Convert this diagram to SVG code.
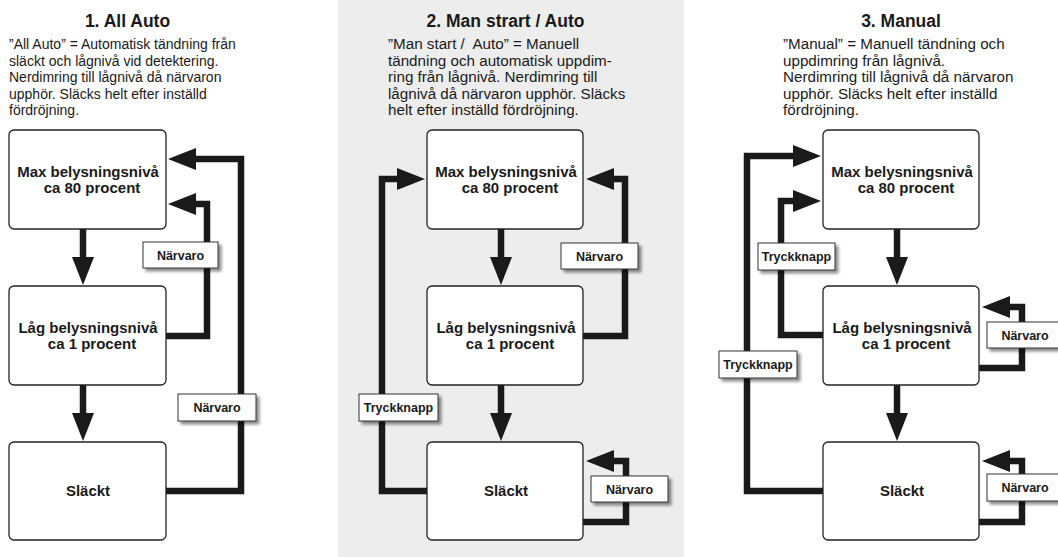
<svg xmlns="http://www.w3.org/2000/svg" width="1058" height="557" viewBox="0 0 1058 557">
<style>
.title{font-family:"Liberation Sans",Arial,sans-serif;font-weight:bold;font-size:17.5px;fill:#1a1a1a;text-anchor:middle}
.desc{font-family:"Liberation Sans",Arial,sans-serif;font-size:14px;fill:#1a1a1a;white-space:pre}
.desc2{font-size:15.2px}
.box{fill:#fff;stroke:#222;stroke-width:1.3}
.nt{font-family:"Liberation Sans",Arial,sans-serif;font-weight:bold;font-size:15px;fill:#1a1a1a;text-anchor:middle}
.lb{fill:#fff;stroke:#333;stroke-width:1;filter:url(#sh)}
.lt{font-family:"Liberation Sans",Arial,sans-serif;font-weight:bold;font-size:12.5px;fill:#1a1a1a;text-anchor:middle}
.c{fill:none;stroke:#1a1a1a;stroke-width:6.5;stroke-linejoin:miter;marker-end:url(#ah)}
</style>
<defs>
<marker id="ah" markerUnits="userSpaceOnUse" markerWidth="30" markerHeight="24" refX="1" refY="11" orient="auto" overflow="visible">
<path d="M0,0 L28,11 L0,22 Z" fill="#1a1a1a"/>
</marker>
<filter id="sh" x="-20%" y="-30%" width="150%" height="180%">
<feDropShadow dx="3" dy="3" stdDeviation="1.8" flood-color="#000" flood-opacity="0.45"/>
</filter>
</defs>
<rect x="338" y="0" width="346" height="557" fill="#ededed"/>

<g id="panel1-text">
<text class="title" x="127.5" y="27">1. All Auto</text>
<text class="desc" x="9" y="49">”All Auto” = Automatisk tändning från</text>
<text class="desc" x="9" y="65.5">släckt och lågnivå vid detektering.</text>
<text class="desc" x="9" y="82">Nerdimring till lågnivå då närvaron</text>
<text class="desc" x="9" y="98.5">upphör. Släcks helt efter inställd</text>
<text class="desc" x="9" y="115">fördröjning.</text>
</g>
<g id="panel2-text">
<text class="title" x="505.5" y="27">2. Man strart / Auto</text>
<text class="desc desc2" x="388" y="49">”Man start /  Auto” = Manuell</text>
<text class="desc desc2" x="388" y="65.5">tändning och automatisk uppdim-</text>
<text class="desc desc2" x="388" y="82">ring från lågnivå. Nerdimring till</text>
<text class="desc desc2" x="388" y="98.5">lågnivå då närvaron upphör. Släcks</text>
<text class="desc desc2" x="388" y="115">helt efter inställd fördröjning.</text>
</g>
<g id="panel3-text">
<text class="title" x="901" y="27">3. Manual</text>
<text class="desc desc2" x="783" y="49">”Manual” = Manuell tändning och</text>
<text class="desc desc2" x="783" y="65.5">uppdimring från lågnivå.</text>
<text class="desc desc2" x="783" y="82">Nerdimring till lågnivå då närvaron</text>
<text class="desc desc2" x="783" y="98.5">upphör. Släcks helt efter inställd</text>
<text class="desc desc2" x="783" y="115">fördröjning.</text>
</g>

<g id="connectors">
<path class="c" d="M83,229 V258"/>
<path class="c" d="M83,385 V414"/>
<path class="c" d="M166,491 H241 V159 H195"/>
<path class="c" d="M166,336 H207 V204 H195"/>

<path class="c" d="M501,229 V258"/>
<path class="c" d="M501,385 V414"/>
<path class="c" d="M583,336 H625 V179 H613"/>
<path class="c" d="M427,491 H382 V179 H398"/>
<path class="c" d="M583,522 H626 V461 H613"/>

<path class="c" d="M897,229 V258"/>
<path class="c" d="M897,385 V414"/>
<path class="c" d="M823,491 H747 V156 H794"/>
<path class="c" d="M823,335 H781 V201 H794"/>
<path class="c" d="M979,368 H1022 V307 H1009"/>
<path class="c" d="M979,522 H1022 V461 H1009"/>
</g>

<g id="p1-max"><rect class="box" x="9" y="130" width="157" height="99" rx="5"/><text class="nt" x="88" y="177">Max belysningsnivå</text><text class="nt" x="92" y="193">ca 80 procent</text></g>
<g id="p1-low"><rect class="box" x="9" y="286" width="157" height="99" rx="5"/><text class="nt" x="88" y="333">Låg belysningsnivå</text><text class="nt" x="92" y="349">ca 1 procent</text></g>
<g id="p1-off"><rect class="box" x="9" y="442" width="157" height="98" rx="5"/><text class="nt" x="88" y="496">Släckt</text></g>

<g id="p2-max"><rect class="box" x="427" y="130" width="156" height="99" rx="5"/><text class="nt" x="506" y="177">Max belysningsnivå</text><text class="nt" x="510" y="193">ca 80 procent</text></g>
<g id="p2-low"><rect class="box" x="427" y="286" width="156" height="99" rx="5"/><text class="nt" x="506" y="333">Låg belysningsnivå</text><text class="nt" x="510" y="349">ca 1 procent</text></g>
<g id="p2-off"><rect class="box" x="427" y="442" width="156" height="98" rx="5"/><text class="nt" x="506" y="496">Släckt</text></g>

<g id="p3-max"><rect class="box" x="823" y="130" width="156" height="99" rx="5"/><text class="nt" x="902" y="177">Max belysningsnivå</text><text class="nt" x="906" y="193">ca 80 procent</text></g>
<g id="p3-low"><rect class="box" x="823" y="286" width="156" height="99" rx="5"/><text class="nt" x="902" y="333">Låg belysningsnivå</text><text class="nt" x="906" y="349">ca 1 procent</text></g>
<g id="p3-off"><rect class="box" x="823" y="442" width="156" height="98" rx="5"/><text class="nt" x="902" y="496">Släckt</text></g>

<g id="p1-lbl1"><rect class="lb" x="143" y="242" width="75" height="26"/><text class="lt" x="180.5" y="259.5">Närvaro</text></g>
<g id="p1-lbl2"><rect class="lb" x="178" y="394" width="78" height="27"/><text class="lt" x="217" y="412">Närvaro</text></g>
<g id="p2-lbl1"><rect class="lb" x="561" y="243" width="77" height="26"/><text class="lt" x="599.5" y="260.5">Närvaro</text></g>
<g id="p2-lbl2"><rect class="lb" x="359" y="394" width="79" height="27"/><text class="lt" x="398.5" y="412">Tryckknapp</text></g>
<g id="p2-lbl3"><rect class="lb" x="591" y="476" width="77" height="26"/><text class="lt" x="629.5" y="493.5">Närvaro</text></g>
<g id="p3-lbl1"><rect class="lb" x="758" y="243" width="77" height="27"/><text class="lt" x="796.5" y="261">Tryckknapp</text></g>
<g id="p3-lbl2"><rect class="lb" x="719" y="351" width="78" height="27"/><text class="lt" x="758" y="369">Tryckknapp</text></g>
<g id="p3-lbl3"><rect class="lb" x="987" y="322" width="76" height="26"/><text class="lt" x="1025" y="339.5">Närvaro</text></g>
<g id="p3-lbl4"><rect class="lb" x="987" y="474" width="76" height="27"/><text class="lt" x="1025" y="492">Närvaro</text></g>
</svg>
